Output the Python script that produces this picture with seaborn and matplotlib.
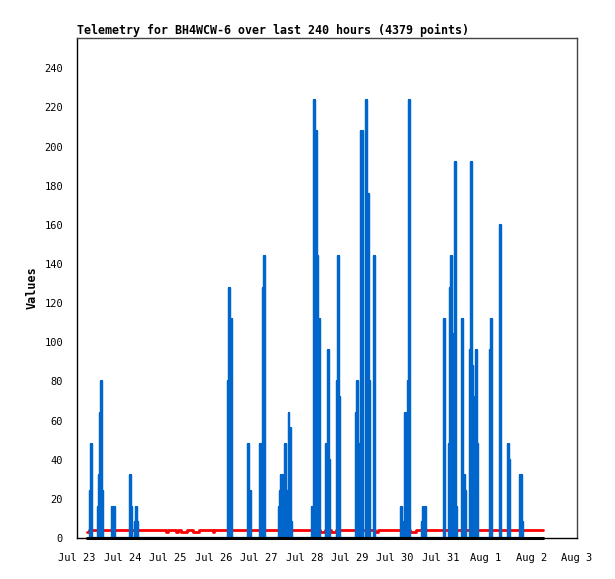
import numpy as np
import pandas as pd
import matplotlib
matplotlib.use("Agg")
import matplotlib.pyplot as plt
import seaborn as sns

# days since Jul 23 00:00
day_labels = ["Jul 23", "Jul 24", "Jul 25", "Jul 26", "Jul 27", "Jul 28",
              "Jul 29", "Jul 30", "Jul 31", "Aug 1", "Aug 2", "Aug 3"]
y_ticks = [0, 20, 40, 60, 80, 100, 120, 140, 160, 180, 200, 220, 240]

# blue channel: readings (spikes), zero everywhere else
blue_day = [0.286, 0.308, 0.330, 0.462, 0.484, 0.506, 0.528, 0.550, 0.572,
            0.770, 0.792, 0.814, 0.836, 1.166, 1.188, 1.210, 1.276, 1.298, 1.320, 1.342,
            3.322, 3.344, 3.366, 3.388, 3.410, 3.762, 3.784, 3.806, 3.828,
            4.026, 4.048, 4.092, 4.114, 4.136,
            4.444, 4.466, 4.488, 4.510, 4.532, 4.554, 4.576, 4.598, 4.620, 4.642,
            4.664, 4.686, 4.708, 4.730,
            5.170, 5.192, 5.214, 5.236, 5.258, 5.280, 5.302, 5.324, 5.346,
            5.478, 5.500, 5.522, 5.544, 5.566, 5.720, 5.742, 5.764, 5.786,
            6.138, 6.160, 6.182, 6.204, 6.226, 6.248, 6.270, 6.292,
            6.358, 6.380, 6.402, 6.424, 6.446, 6.534, 6.556,
            7.128, 7.150, 7.172, 7.194, 7.216, 7.238, 7.260, 7.282, 7.304, 7.326,
            7.590, 7.612, 7.634, 7.656, 7.678,
            8.074, 8.096, 8.184, 8.206, 8.228, 8.250, 8.272, 8.294, 8.316, 8.338, 8.360,
            8.470, 8.492, 8.514, 8.536, 8.558,
            8.646, 8.668, 8.690, 8.712, 8.734, 8.756, 8.778, 8.800, 8.822,
            9.086, 9.108, 9.130, 9.306, 9.328, 9.482, 9.504, 9.526,
            9.746, 9.768, 9.790, 9.812]
blue_val = [24, 48, 48, 16, 32, 64, 80, 80, 24,
            16, 16, 16, 16, 32, 32, 16, 8, 16, 16, 8,
            80, 128, 128, 112, 112, 48, 48, 24, 24,
            48, 48, 128, 144, 144,
            16, 24, 32, 32, 32, 8, 48, 48, 24, 24,
            64, 56, 56, 8,
            16, 16, 224, 224, 208, 208, 144, 112, 112,
            48, 48, 96, 96, 40, 80, 144, 144, 72,
            64, 80, 80, 48, 48, 208, 208, 208,
            224, 224, 176, 176, 80, 144, 144,
            16, 16, 8, 8, 64, 64, 64, 80, 224, 224,
            8, 16, 16, 16, 16,
            112, 112, 48, 128, 144, 144, 104, 32, 192, 192, 16,
            112, 112, 32, 32, 24,
            96, 192, 192, 88, 24, 72, 96, 96, 48,
            96, 112, 112, 160, 160, 48, 48, 40,
            32, 32, 32, 8]

# red channel (step changes)
red_day = [0.220, 0.264, 1.958, 2.002, 2.178, 2.222, 2.288, 2.420, 2.552, 2.684,
           2.992, 3.014, 5.346, 5.456, 5.588, 5.698, 6.556, 6.622, 7.326, 7.458,
           8.250, 8.316, 10.252]
red_val = [3, 4, 3, 4, 3, 4, 3, 4, 3, 4,
           3, 4, 3, 4, 3, 4, 3, 4, 3, 4,
           3, 4, 4]

# black channel
black_day = [0.220, 10.252]
black_val = [0, 0]

# spikes drawn as up/down strokes from zero
bt, bv = [], []
for t, v in zip(blue_day, blue_val):
    bt += [t, t, t]
    bv += [0, v, 0]
blue_df = pd.DataFrame({"day": bt, "value": bv})
red_df = pd.DataFrame({"day": red_day, "value": red_val})
black_df = pd.DataFrame({"day": black_day, "value": black_val})

sns.set_style("white")
plt.rcParams['font.family'] = ['DejaVu Sans Mono', 'DejaVu Sans']
plt.rcParams['text.color'] = 'black'
plt.rcParams['axes.labelcolor'] = 'black'
plt.rcParams['xtick.color'] = 'black'
plt.rcParams['ytick.color'] = 'black'

fig = plt.figure(figsize=(6.15, 5.79), dpi=100)
ax = fig.add_axes([77 / 615, 41 / 579, 500 / 615, 500 / 579])

sns.lineplot(data=red_df, x="day", y="value", color="#ff0000", linewidth=2.0,
             drawstyle="steps-post", estimator=None, sort=False, ax=ax)
sns.lineplot(data=blue_df, x="day", y="value", color="#0066cc", linewidth=1.6,
             estimator=None, sort=False, ax=ax)
sns.lineplot(data=black_df, x="day", y="value", color="black", linewidth=2.2,
             estimator=None, sort=False, ax=ax, clip_on=False)

ax.set_xlim(0, 11)
ax.set_ylim(0, 255.5)
ax.set_xticks(range(len(day_labels)))
ax.set_xticklabels(day_labels)
ax.set_yticks(y_ticks)
ax.tick_params(axis="both", direction="out", length=6, width=1, color="black",
               labelcolor="black", labelsize=7.5, pad=4)
ax.tick_params(axis="x", pad=5)

for side in ["top", "right"]:
    ax.spines[side].set_color("#444444")
    ax.spines[side].set_linewidth(1)
for side in ["left", "bottom"]:
    ax.spines[side].set_color("black")
    ax.spines[side].set_linewidth(1)

ax.set_xlabel("")
ax.set_ylabel("Values", fontsize=8.5, fontweight="bold", labelpad=4, color="black")
ax.set_title("Telemetry for BH4WCW-6 over last 240 hours (4379 points)",
             loc="left", fontsize=8.4, fontweight="bold", pad=3, color="black")

fig.savefig("out.png", dpi=100)
